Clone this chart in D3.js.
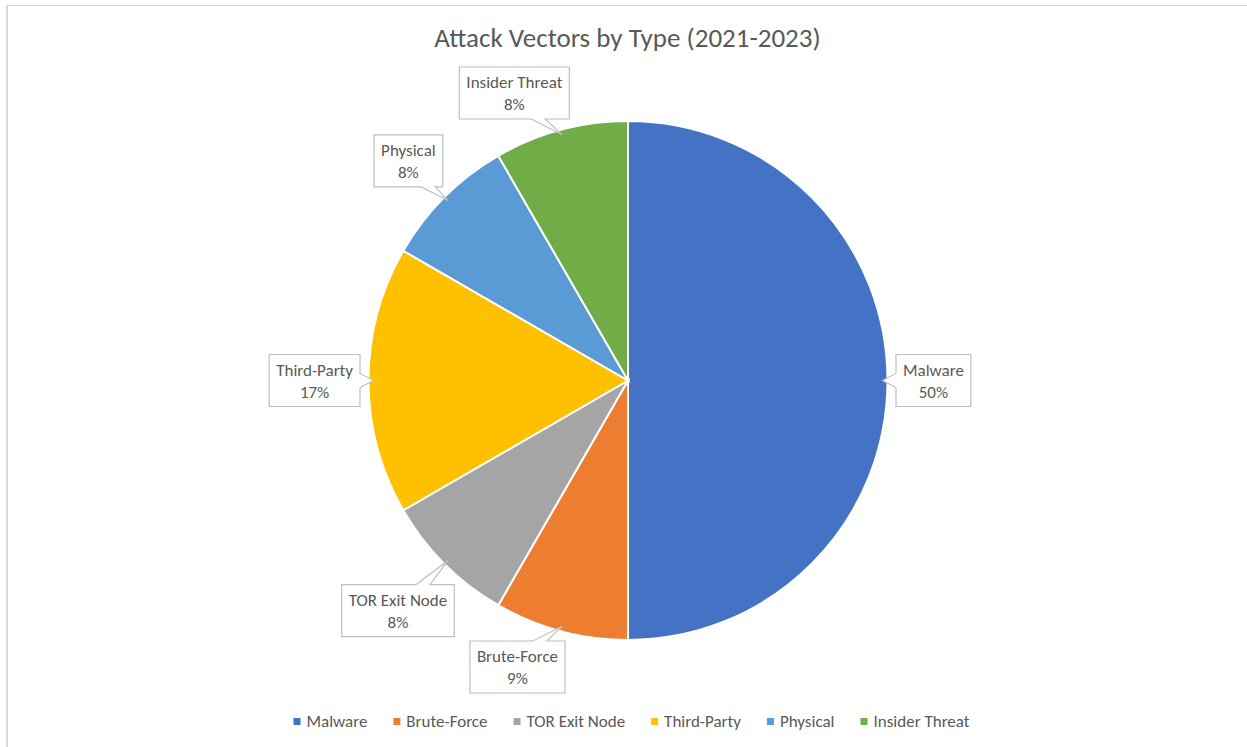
<!DOCTYPE html>
<html>
<head>
<meta charset="utf-8">
<script src="https://cdn.jsdelivr.net/npm/d3@7"></script>
<style>
  body { margin: 0; background: #fff; }
  text { font-family: Calibri, Carlito, "Open Sans", sans-serif; fill: #595959; }
</style>
</head>
<body>
<svg id="chart" width="1247" height="747"></svg>
<script>
// chart data
const categories = ["Malware", "Brute-Force", "TOR Exit Node", "Third-Party", "Physical", "Insider Threat"];
const counts = [6, 1, 1, 2, 1, 1];
const colors = ["#4472C4", "#ED7D31", "#A5A5A5", "#FFC000", "#5B9BD5", "#70AD47"];
const chartTitle = "Attack Vectors by Type (2021-2023)";

const width = 1247, height = 747;
const cx = 628, cy = 380.5, radius = 259.5;
const labelGap = 8.5;               // clearance between pie edge and the nearest point of a callout
const labelTop = 67, labelBottom = 693;

const svg = d3.select("#chart");

// frame of the chart area
svg.append("line").attr("x1", 7).attr("x2", 7).attr("y1", 5).attr("y2", height)
    .attr("stroke", "#d9d9d9").attr("stroke-width", 2);
svg.append("line").attr("x1", 6).attr("x2", width).attr("y1", 5.5).attr("y2", 5.5)
    .attr("stroke", "#d9d9d9").attr("stroke-width", 1);

svg.append("text")
    .attr("x", 627.5)
    .attr("y", 47)
    .attr("text-anchor", "middle")
    .style("font-size", "27px")
    .text(chartTitle);

const data = categories.map((c, i) => ({ name: c, value: counts[i], color: colors[i] }));

// percent labels rounded so they add up to 100 (largest remainder, like Excel)
const total = d3.sum(counts);
const raw = counts.map(v => v / total * 100);
const pct = raw.map(Math.floor);
let left = 100 - d3.sum(pct);
d3.range(raw.length)
    .sort((a, b) => (raw[b] - pct[b]) - (raw[a] - pct[a]) || a - b)
    .slice(0, left)
    .forEach(i => pct[i] += 1);

const pie = d3.pie().sort(null).value(d => d.value);
const arcs = pie(data);
const arc = d3.arc().innerRadius(0).outerRadius(radius);

const g = svg.append("g").attr("transform", `translate(${cx},${cy})`);

g.selectAll("path.slice")
    .data(arcs)
    .enter().append("path")
    .attr("class", "slice")
    .attr("d", arc)
    .attr("fill", d => d.data.color)
    .attr("stroke", "#fff")
    .attr("stroke-width", 2);

// callout labels
const labels = svg.append("g");
const clamp = (v, a, b) => Math.max(a, Math.min(b, v));

// distance from pie centre to the closest point of a box
function boxDist(bx, by, hw, hh) {
    const dx = Math.max(0, Math.abs(bx - cx) - hw);
    const dy = Math.max(0, Math.abs(by - cy) - hh);
    return Math.hypot(dx, dy);
}
// smallest t so that the box at (x0 + t*vx, y0 + t*vy) clears the pie
function solveT(x0, y0, vx, vy, hw, hh) {
    let lo = 0, hi = 1000;
    for (let k = 0; k < 40; k++) {
        const m = (lo + hi) / 2;
        if (boxDist(x0 + m * vx, y0 + m * vy, hw, hh) < radius + labelGap) lo = m; else hi = m;
    }
    return hi;
}

arcs.forEach((a, i) => {
    const mid = (a.startAngle + a.endAngle) / 2;
    const ux = Math.sin(mid), uy = -Math.cos(mid);

    const lg = labels.append("g");
    const box = lg.append("path");
    const t1 = lg.append("text").attr("text-anchor", "middle").style("font-size", "17px").text(a.data.name);
    const t2 = lg.append("text").attr("text-anchor", "middle").style("font-size", "17px").text(pct[i] + "%");
    const tw = Math.max(t1.node().getComputedTextLength(), t2.node().getComputedTextLength());

    const hw = tw / 2 + 7, hh = 26;
    const t = solveT(cx, cy, ux, uy, hw, hh);
    let bx = cx + ux * t, by = cy + uy * t;
    const cby = clamp(by, labelTop + hh, labelBottom - hh);
    if (cby !== by) {
        // slide sideways until it clears the pie again
        by = cby;
        bx = cx + Math.sign(ux) * solveT(cx, by, Math.sign(ux), 0, hw, hh);
    }
    const tipX = cx + ux * (radius - 5), tipY = cy + uy * (radius - 5);

    t1.attr("x", bx).attr("y", by - 5);
    t2.attr("x", bx).attr("y", by + 17);

    const x0 = bx - hw, x1 = bx + hw, y0 = by - hh, y1 = by + hh;
    const rx = (tipX - bx) / hw, ry = (tipY - by) / hh;
    const bw = 7;
    const pts = [[x0, y0]];
    let side;
    if (Math.abs(rx) > Math.abs(ry)) side = rx > 0 ? "right" : "left";
    else side = ry > 0 ? "bottom" : "top";
    const mx = clamp((tipX + bx) / 2, x0 + bw + 3, x1 - bw - 3);
    const my = clamp((tipY + by) / 2, y0 + bw + 3, y1 - bw - 3);
    if (side === "top") pts.push([mx - bw, y0], [tipX, tipY], [mx + bw, y0]);
    pts.push([x1, y0]);
    if (side === "right") pts.push([x1, my - bw], [tipX, tipY], [x1, my + bw]);
    pts.push([x1, y1]);
    if (side === "bottom") pts.push([mx + bw, y1], [tipX, tipY], [mx - bw, y1]);
    pts.push([x0, y1]);
    if (side === "left") pts.push([x0, my + bw], [tipX, tipY], [x0, my - bw]);

    box.attr("d", d3.line()(pts) + "Z")
        .attr("fill", "#fff")
        .attr("stroke", "#bfbfbf")
        .attr("stroke-width", 1.2);
});

// legend
const legend = svg.append("g");
const items = legend.selectAll("g.item")
    .data(data)
    .enter().append("g")
    .attr("class", "item");

items.append("rect")
    .attr("width", 7)
    .attr("height", 7)
    .attr("y", -9)
    .attr("fill", d => d.color);

items.append("text")
    .attr("x", 13)
    .attr("y", 0)
    .style("font-size", "17px")
    .text(d => d.name);

const itemGap = 26;
let offset = 0;
const pos = [];
items.each(function() {
    pos.push(offset);
    offset += 13 + d3.select(this).select("text").node().getComputedTextLength() + itemGap;
});
const legendW = offset - itemGap;
items.attr("transform", (d, i) => `translate(${pos[i]},0)`);
legend.attr("transform", `translate(${631.5 - legendW / 2},727)`);
</script>
</body>
</html>
